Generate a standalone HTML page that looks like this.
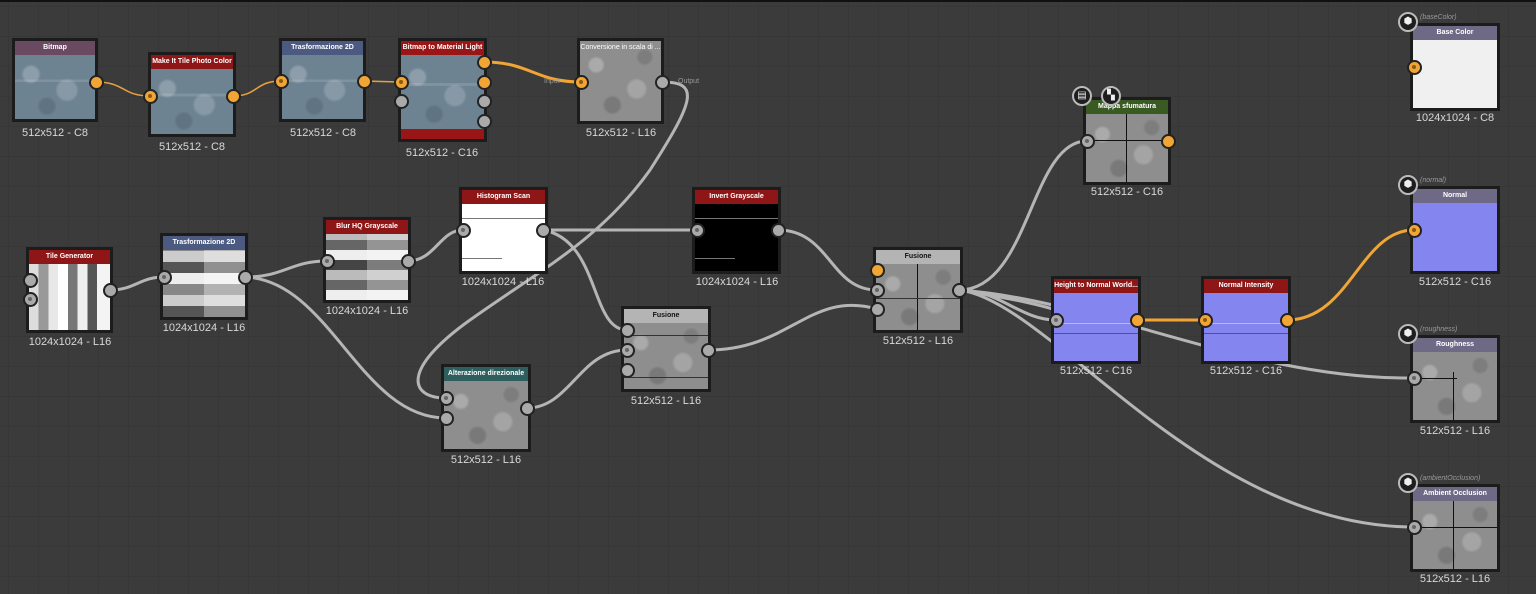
<!DOCTYPE html>
<html><head><meta charset="utf-8">
<style>
html,body{margin:0;padding:0;}
body{width:1536px;height:594px;overflow:hidden;position:relative;background:#3b3b3b;
background-image:linear-gradient(#373737 1px,transparent 1px),linear-gradient(90deg,#373737 1px,transparent 1px);
background-size:30px 30px;background-position:8px 6px;font-family:"Liberation Sans",sans-serif;}
.top{position:absolute;left:0;top:0;width:1536px;height:2px;background:#111;}
svg{position:absolute;left:0;top:0;}
.n{position:absolute;background:#1c1c1c;padding:3px;box-sizing:border-box;}
.in{position:relative;width:100%;height:100%;overflow:hidden;}
.h{height:14px;line-height:14px;text-align:center;color:#fff;font-size:7px;font-weight:bold;white-space:nowrap;overflow:hidden;}
.p{position:absolute;left:0;right:0;bottom:0;}
.g{background:#8e8e8e;background-image:radial-gradient(circle at 20% 30%,rgba(255,255,255,.25) 0 6px,transparent 9px),radial-gradient(circle at 70% 60%,rgba(255,255,255,.2) 0 8px,transparent 11px),radial-gradient(circle at 40% 80%,rgba(0,0,0,.15) 0 7px,transparent 10px),radial-gradient(circle at 80% 20%,rgba(0,0,0,.12) 0 6px,transparent 9px);}
.b{background:#6d8392;background-image:radial-gradient(circle at 20% 30%,rgba(255,255,255,.22) 0 7px,transparent 10px),radial-gradient(circle at 65% 55%,rgba(255,255,255,.18) 0 9px,transparent 12px),radial-gradient(circle at 40% 80%,rgba(0,0,0,.12) 0 7px,transparent 10px),linear-gradient(0deg,transparent 58%,rgba(255,255,255,.12) 58% 62%,transparent 62%);}
.nm{background:#8585f0;}
.l{position:absolute;color:#d8d8d8;font-size:11px;text-align:center;width:120px;}
.pt{position:absolute;width:11px;height:11px;margin:-0.5px;border-radius:50%;border:2px solid #222;background:#f0a535;}
.gr{background:#aaa;}
.dot::after{content:"";position:absolute;left:3.5px;top:3.5px;width:4px;height:4px;border-radius:50%;background:#8a5a10;}
.gr.dot::after{background:#666;}
.vx{position:absolute;top:14px;bottom:0;width:1px;background:#111;}
.hx{position:absolute;left:0;right:0;height:1px;background:#111;}
.ic{position:absolute;width:20px;height:20px;border-radius:50%;background:#1e1e1e;border:2px solid #bbb;box-sizing:border-box;color:#eee;font-size:10px;text-align:center;line-height:16px;}
.tg{position:absolute;color:#999;font-size:7px;font-style:italic;}
</style></head><body>
<div class="top"></div>
<svg width="1536" height="594" fill="none" stroke-linecap="round">
<g stroke="#e8a040" stroke-width="1.5">
<path d="M96 82 C125 82,122 96,150 96"/>
<path d="M233 96 C258 96,255 81,281 81"/>
<path d="M364 81 L401 82"/>
</g>
<path d="M484 62 C530 62,535 82,581 82" stroke="#f0a535" stroke-width="3"/>
<g stroke="#b5b5b5" stroke-width="3">
<path d="M662 82 C700 82,695 100,650 170 C600 240,540 270,470 320 C400 370,410 398,446 398"/>
<path d="M110 290 C135 290,140 277,164 277"/>
<path d="M245 277 C285 277,290 261,327 261"/>
<path d="M245 277 C330 280,360 418,446 418"/>
<path d="M408 261 C435 261,440 230,463 230"/>
<path d="M543 230 L697 230"/>
<path d="M543 230 C600 240,590 330,627 330"/>
<path d="M527 408 C570 408,580 350,627 350"/>
<path d="M708 350 C790 350,810 290,877 309"/>
<path d="M778 230 C830 230,830 290,877 290"/>
<path d="M959 290 C1030 290,1030 141,1087 141"/>
<path d="M959 290 C1000 290,1020 320,1056 320"/>
<path d="M959 290 C1020 300,1040 305,1056 310"/>
<path d="M959 290 C1100 300,1250 380,1414 378"/>
<path d="M959 290 C1050 300,1200 527,1414 527"/>
</g>
<path d="M1137 320 L1205 320" stroke="#f0a535" stroke-width="3"/>
<path d="M1287 320 C1350 320,1360 230,1414 230" stroke="#f0a535" stroke-width="3"/>
</svg>

<div class="n" style="left:12px;top:38px;width:86px;height:84px"><div class="in"><div class="h" style="background:#6a4a60">Bitmap</div><div class="p b" style="top:14px"></div></div></div>
<div class="l" style="left:-5px;top:127px">512x512 - C8</div>
<div class="pt" style="left:89px;top:75px"></div>

<div class="n" style="left:148px;top:52px;width:88px;height:85px"><div class="in"><div class="h" style="background:#8e1616">Make It Tile Photo Color</div><div class="p b" style="top:14px"></div></div></div>
<div class="l" style="left:132px;top:141px">512x512 - C8</div>
<div class="pt dot" style="left:143px;top:89px"></div><div class="pt" style="left:226px;top:89px"></div>

<div class="n" style="left:279px;top:38px;width:87px;height:84px"><div class="in"><div class="h" style="background:#4c5a82">Trasformazione 2D</div><div class="p b" style="top:14px"></div></div></div>
<div class="l" style="left:263px;top:127px">512x512 - C8</div>
<div class="pt dot" style="left:274px;top:74px"></div><div class="pt" style="left:357px;top:74px"></div>

<div class="n" style="left:398px;top:38px;width:89px;height:104px"><div class="in"><div class="h" style="background:#9a1515">Bitmap to Material Light</div><div class="p b" style="top:14px;bottom:10px"></div><div class="p" style="height:10px;background:#9a1515"></div></div></div>
<div class="l" style="left:382px;top:147px">512x512 - C16</div>
<div class="pt dot" style="left:394px;top:75px"></div><div class="pt gr" style="left:394px;top:94px"></div>
<div class="pt" style="left:477px;top:55px"></div><div class="pt" style="left:477px;top:75px"></div><div class="pt gr" style="left:477px;top:94px"></div><div class="pt gr" style="left:477px;top:114px"></div>

<div class="n" style="left:577px;top:38px;width:87px;height:86px"><div class="in"><div class="p g" style="top:0"></div><div class="h" style="position:relative;font-weight:normal">Conversione in scala di ...</div></div></div>
<div class="l" style="left:561px;top:127px">512x512 - L16</div>
<div class="pt dot" style="left:574px;top:75px"></div><div class="pt gr" style="left:655px;top:75px"></div>
<div class="tg" style="left:544px;top:78px;font-style:normal">Input</div><div class="tg" style="left:678px;top:78px;font-style:normal">Output</div>

<div class="n" style="left:26px;top:247px;width:87px;height:86px"><div class="in"><div class="h" style="background:#8e1616">Tile Generator</div><div class="p" style="top:14px;background:linear-gradient(90deg,#ddd 0 12%,#999 12% 24%,#e8e8e8 24% 36%,#fff 36% 48%,#777 48% 60%,#eee 60% 72%,#555 72% 84%,#f4f4f4 84%)"></div></div></div>
<div class="l" style="left:10px;top:336px">1024x1024 - L16</div>
<div class="pt gr" style="left:23px;top:273px"></div><div class="pt gr dot" style="left:23px;top:292px"></div><div class="pt gr" style="left:103px;top:283px"></div>

<div class="n" style="left:160px;top:233px;width:88px;height:87px"><div class="in"><div class="h" style="background:#4c5a82">Trasformazione 2D</div><div class="p" style="top:14px;background:linear-gradient(90deg,transparent 50%,rgba(255,255,255,.35) 50%),repeating-linear-gradient(0deg,#555 0 11px,#ccc 11px 22px,#888 22px 33px,#eee 33px 44px)"></div></div></div>
<div class="l" style="left:144px;top:322px">1024x1024 - L16</div>
<div class="pt gr dot" style="left:157px;top:270px"></div><div class="pt gr" style="left:238px;top:270px"></div>

<div class="n" style="left:323px;top:217px;width:88px;height:86px"><div class="in"><div class="h" style="background:#8e1616">Blur HQ Grayscale</div><div class="p" style="top:14px;background:linear-gradient(90deg,transparent 50%,rgba(255,255,255,.3) 50%),repeating-linear-gradient(0deg,#eee 0 10px,#666 10px 20px,#bbb 20px 30px,#444 30px 40px)"></div></div></div>
<div class="l" style="left:307px;top:305px">1024x1024 - L16</div>
<div class="pt gr dot" style="left:320px;top:254px"></div><div class="pt gr" style="left:401px;top:254px"></div>

<div class="n" style="left:459px;top:187px;width:89px;height:87px"><div class="in"><div class="h" style="background:#8e1616">Histogram Scan</div><div class="p" style="top:14px;background:#fff"><div class="hx" style="top:14px;background:#777"></div><div class="hx" style="top:54px;width:40px;background:#777"></div></div></div></div>
<div class="l" style="left:443px;top:276px">1024x1024 - L16</div>
<div class="pt gr dot" style="left:456px;top:223px"></div><div class="pt gr" style="left:536px;top:223px"></div>

<div class="n" style="left:692px;top:187px;width:89px;height:87px"><div class="in"><div class="h" style="background:#8e1616">Invert Grayscale</div><div class="p" style="top:14px;background:#000"><div class="hx" style="top:14px;background:#777"></div><div class="hx" style="top:54px;width:40px;background:#777"></div></div></div></div>
<div class="l" style="left:677px;top:276px">1024x1024 - L16</div>
<div class="pt gr dot" style="left:690px;top:223px"></div><div class="pt gr" style="left:771px;top:223px"></div>

<div class="n" style="left:621px;top:306px;width:90px;height:86px"><div class="in"><div class="h" style="background:#b4b4b4;color:#111">Fusione</div><div class="p g" style="top:14px"><div class="hx" style="top:12px;background:#333"></div><div class="hx" style="top:54px;background:#333"></div></div></div></div>
<div class="l" style="left:606px;top:395px">512x512 - L16</div>
<div class="pt gr" style="left:620px;top:323px"></div><div class="pt gr dot" style="left:620px;top:343px"></div><div class="pt gr" style="left:620px;top:363px"></div><div class="pt gr" style="left:701px;top:343px"></div>

<div class="n" style="left:441px;top:364px;width:90px;height:88px"><div class="in"><div class="h" style="background:#2f5e5e">Alterazione direzionale</div><div class="p g" style="top:14px"></div></div></div>
<div class="l" style="left:426px;top:454px">512x512 - L16</div>
<div class="pt gr dot" style="left:439px;top:391px"></div><div class="pt gr" style="left:439px;top:411px"></div><div class="pt gr" style="left:520px;top:401px"></div>

<div class="n" style="left:873px;top:247px;width:90px;height:86px"><div class="in"><div class="h" style="background:#b4b4b4;color:#111">Fusione</div><div class="p g" style="top:14px"><div class="vx" style="left:41px;top:0"></div><div class="hx" style="top:34px;background:#333"></div></div></div></div>
<div class="l" style="left:858px;top:335px">512x512 - L16</div>
<div class="pt" style="left:870px;top:263px"></div><div class="pt gr dot" style="left:870px;top:283px"></div><div class="pt gr" style="left:870px;top:302px"></div><div class="pt gr" style="left:952px;top:283px"></div>

<div class="n" style="left:1083px;top:97px;width:88px;height:88px"><div class="in"><div class="h" style="background:#3a5a24">Mappa sfumatura</div><div class="p g" style="top:14px"><div class="vx" style="left:40px;top:0"></div><div class="hx" style="top:26px"></div></div></div></div>
<div class="l" style="left:1067px;top:186px">512x512 - C16</div>
<div class="pt gr dot" style="left:1080px;top:134px"></div><div class="pt" style="left:1161px;top:134px"></div>
<div class="ic" style="left:1072px;top:86px">▤</div><div class="ic" style="left:1101px;top:86px">▚</div>

<div class="n" style="left:1051px;top:276px;width:90px;height:88px"><div class="in"><div class="h" style="background:#8e1616">Height to Normal World...</div><div class="p nm" style="top:14px"><div class="hx" style="top:30px;background:#a0c0ff"></div><div class="hx" style="top:40px;background:#6040c0"></div></div></div></div>
<div class="l" style="left:1036px;top:365px">512x512 - C16</div>
<div class="pt gr dot" style="left:1049px;top:313px"></div><div class="pt" style="left:1130px;top:313px"></div>

<div class="n" style="left:1201px;top:276px;width:90px;height:88px"><div class="in"><div class="h" style="background:#8e1616">Normal Intensity</div><div class="p nm" style="top:14px"><div class="hx" style="top:30px;background:#a0c0ff"></div><div class="hx" style="top:40px;background:#6040c0"></div></div></div></div>
<div class="l" style="left:1186px;top:365px">512x512 - C16</div>
<div class="pt dot" style="left:1198px;top:313px"></div><div class="pt" style="left:1280px;top:313px"></div>

<div class="n" style="left:1410px;top:23px;width:90px;height:88px"><div class="in"><div class="h" style="background:#6e6a86">Base Color</div><div class="p" style="top:14px;background:#f0f0f0"></div></div></div>
<div class="l" style="left:1395px;top:112px">1024x1024 - C8</div>
<div class="pt dot" style="left:1407px;top:60px"></div>
<div class="ic" style="left:1398px;top:12px">⬢</div><div class="tg" style="left:1420px;top:14px">(baseColor)</div>

<div class="n" style="left:1410px;top:186px;width:90px;height:88px"><div class="in"><div class="h" style="background:#6e6a86">Normal</div><div class="p nm" style="top:14px"></div></div></div>
<div class="l" style="left:1395px;top:276px">512x512 - C16</div>
<div class="pt dot" style="left:1407px;top:223px"></div>
<div class="ic" style="left:1398px;top:175px">⬢</div><div class="tg" style="left:1420px;top:177px">(normal)</div>

<div class="n" style="left:1410px;top:335px;width:90px;height:88px"><div class="in"><div class="h" style="background:#6e6a86">Roughness</div><div class="p g" style="top:14px"><div class="vx" style="left:40px;top:20px"></div><div class="hx" style="top:26px;right:40px"></div></div></div></div>
<div class="l" style="left:1395px;top:425px">512x512 - L16</div>
<div class="pt gr dot" style="left:1407px;top:371px"></div>
<div class="ic" style="left:1398px;top:324px">⬢</div><div class="tg" style="left:1420px;top:326px">(roughness)</div>

<div class="n" style="left:1410px;top:484px;width:90px;height:88px"><div class="in"><div class="h" style="background:#6e6a86">Ambient Occlusion</div><div class="p g" style="top:14px"><div class="vx" style="left:40px;top:0"></div><div class="hx" style="top:26px"></div></div></div></div>
<div class="l" style="left:1395px;top:573px">512x512 - L16</div>
<div class="pt gr dot" style="left:1407px;top:520px"></div>
<div class="ic" style="left:1398px;top:473px">⬢</div><div class="tg" style="left:1420px;top:475px">(ambientOcclusion)</div>
</body></html>
